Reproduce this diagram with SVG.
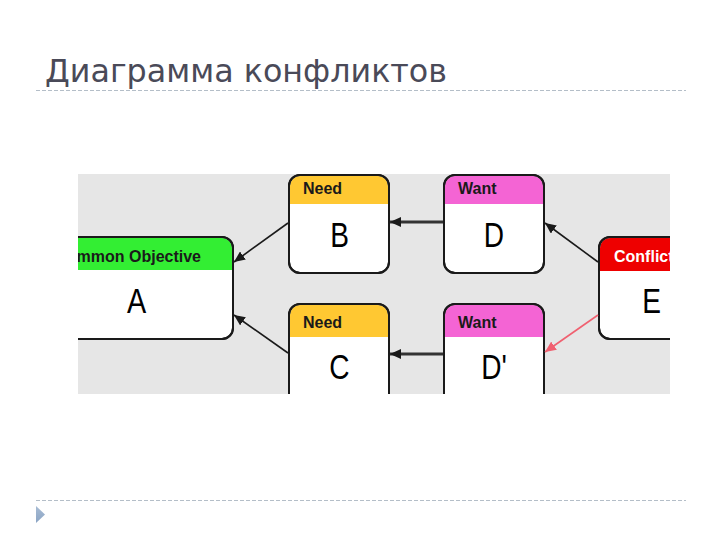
<svg xmlns="http://www.w3.org/2000/svg" width="720" height="540" viewBox="0 0 720 540">
<style>
.hdr{font-family:"Liberation Sans",Arial,sans-serif;font-weight:bold;font-size:16px;fill:#1a1a1a}
.big{font-family:"Liberation Sans",Arial,sans-serif;font-size:36px;fill:#000;text-anchor:middle}
.box{fill:#fff;stroke:#1a1a1a;stroke-width:2}
.edge{fill:none;stroke:#1a1a1a;stroke-width:1.6}
.dash{stroke:#b4bec8;stroke-width:1;stroke-dasharray:4 2}
</style>
<defs>
<clipPath id="area"><rect x="78" y="174" width="592" height="220"/></clipPath>
<marker id="ah" markerUnits="userSpaceOnUse" markerWidth="12" markerHeight="10" refX="11" refY="5" orient="auto">
<path d="M0,0 L11,5 L0,10 z" fill="#1a1a1a"/>
</marker>
<marker id="ahr" markerUnits="userSpaceOnUse" markerWidth="12" markerHeight="10" refX="11" refY="5" orient="auto">
<path d="M0,0 L11,5 L0,10 z" fill="#f06070"/>
</marker>
<linearGradient id="tri" x1="0" y1="0" x2="0" y2="1">
<stop offset="0" stop-color="#a8bcd4"/><stop offset="1" stop-color="#8aa4c4"/>
</linearGradient>
</defs>
<rect width="720" height="540" fill="#fff"/>
<text x="45" y="82" font-family="DejaVu Sans,sans-serif" font-size="32" fill="#4a4a58" textLength="402" lengthAdjust="spacingAndGlyphs">Диаграмма конфликтов</text>
<line class="dash" x1="36" y1="90.5" x2="686" y2="90.5"/>
<line class="dash" x1="36" y1="500.5" x2="686" y2="500.5"/>
<path d="M36,506 L45,514.5 L36,523 z" fill="url(#tri)"/>
<g clip-path="url(#area)">
<rect x="78" y="174" width="592" height="220" fill="#e6e6e6"/>
<g id="nodeA">
<rect class="box" x="40" y="237" width="193" height="102" rx="11"/>
<path d="M51,238 H222 A10,10 0 0 1 232,248 V270 H41 V248 A10,10 0 0 1 51,238 z" fill="#33ee33"/>
<rect x="40" y="237" width="193" height="102" rx="11" fill="none" stroke="#1a1a1a" stroke-width="2"/>
<text class="hdr" x="201" y="262" text-anchor="end">Common Objective</text>
<text class="big" transform="translate(136.5,313) scale(0.8,1)">A</text>
</g>
<g id="nodeB">
<rect class="box" x="289" y="175" width="100" height="98" rx="11"/>
<path d="M300,176 H378 A10,10 0 0 1 388,186 V204 H290 V186 A10,10 0 0 1 300,176 z" fill="#ffc832"/>
<rect x="289" y="175" width="100" height="98" rx="11" fill="none" stroke="#1a1a1a" stroke-width="2"/>
<text class="hdr" x="303" y="194">Need</text>
<text class="big" transform="translate(339.5,247) scale(0.78,1)">B</text>
</g>
<g id="nodeC">
<rect class="box" x="289" y="304" width="100" height="110" rx="11"/>
<path d="M300,305 H378 A10,10 0 0 1 388,315 V337 H290 V315 A10,10 0 0 1 300,305 z" fill="#ffc832"/>
<rect x="289" y="304" width="100" height="110" rx="11" fill="none" stroke="#1a1a1a" stroke-width="2"/>
<text class="hdr" x="303" y="328">Need</text>
<text class="big" transform="translate(339.5,379) scale(0.78,1)">C</text>
</g>
<g id="nodeD">
<rect class="box" x="444" y="175" width="100" height="98" rx="11"/>
<path d="M455,176 H533 A10,10 0 0 1 543,186 V204 H445 V186 A10,10 0 0 1 455,176 z" fill="#f464d4"/>
<rect x="444" y="175" width="100" height="98" rx="11" fill="none" stroke="#1a1a1a" stroke-width="2"/>
<text class="hdr" x="458" y="194">Want</text>
<text class="big" transform="translate(494,247) scale(0.78,1)">D</text>
</g>
<g id="nodeD2">
<rect class="box" x="444" y="304" width="100" height="110" rx="11"/>
<path d="M455,305 H533 A10,10 0 0 1 543,315 V337 H445 V315 A10,10 0 0 1 455,305 z" fill="#f464d4"/>
<rect x="444" y="304" width="100" height="110" rx="11" fill="none" stroke="#1a1a1a" stroke-width="2"/>
<text class="hdr" x="458" y="328">Want</text>
<text class="big" transform="translate(494,379) scale(0.78,1)">D'</text>
</g>
<g id="nodeE">
<rect class="box" x="599" y="237" width="120" height="102" rx="11"/>
<path d="M610,238 H708 A10,10 0 0 1 718,248 V271 H600 V248 A10,10 0 0 1 610,238 z" fill="#ee0000"/>
<rect x="599" y="237" width="120" height="102" rx="11" fill="none" stroke="#1a1a1a" stroke-width="2"/>
<text class="hdr" x="614" y="262" style="fill:#fff">Conflict</text>
<text class="big" transform="translate(651.5,313) scale(0.78,1)">E</text>
</g>
<g id="connectors">
<line class="edge" x1="288" y1="223" x2="234" y2="262" marker-end="url(#ah)"/>
<line class="edge" x1="288" y1="353" x2="234" y2="315" marker-end="url(#ah)"/>
<line class="edge" x1="443" y1="222" x2="390" y2="222" style="stroke:#333;stroke-width:3" marker-end="url(#ah)"/>
<line class="edge" x1="443" y1="354" x2="390" y2="354" style="stroke:#333;stroke-width:3" marker-end="url(#ah)"/>
<line class="edge" x1="598" y1="262" x2="545" y2="223" marker-end="url(#ah)"/>
<line class="edge" x1="598" y1="315" x2="545" y2="352" style="stroke:#f06070" marker-end="url(#ahr)"/>
</g>
</g>
</svg>
